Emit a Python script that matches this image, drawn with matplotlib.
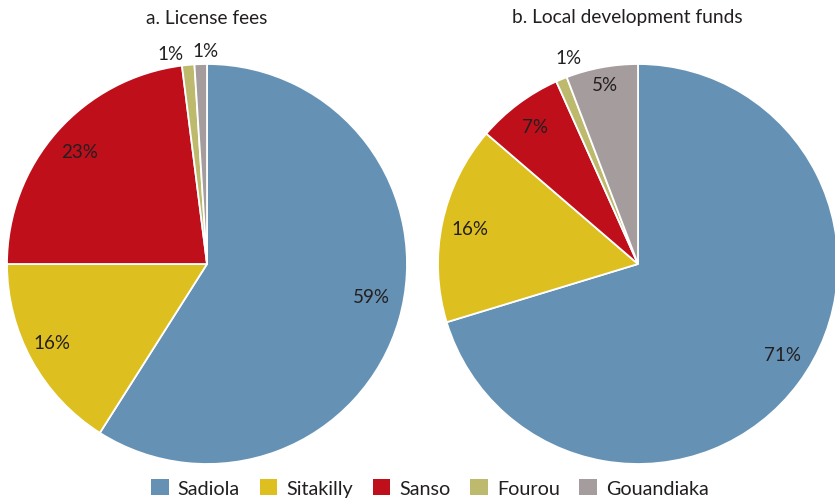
import numpy as np
import matplotlib.pyplot as plt
from matplotlib.patches import Patch

plt.rcParams["font.family"] = ["Lato", "DejaVu Sans"]

# ── Data ──────────────────────────────────────────────────────────────
MINES = ["Sadiola", "Sitakilly", "Sanso", "Fourou", "Gouandiaka"]
LICENSE_FEES = [59, 16, 23, 1, 1]
LICENSE_LABELS = ["59%", "16%", "23%", "1%", "1%"]
LOCAL_FUNDS = [70.3, 16.0, 7.0, 0.9, 5.8]
LOCAL_LABELS = ["71%", "16%", "7%", "1%", "5%"]
COLORS = ["#6592B4", "#DDBF20", "#BE0F1B", "#BDBA6E", "#A59C9E"]
TEXT = "#231F20"

W, H = 835, 502
fig = plt.figure(figsize=(W / 100, H / 100), dpi=100)
ax = fig.add_axes([0, 0, 1, 1])

R = 200


def draw_pie(values, labels, cx, cy, label_pos):
    """label_pos: per wedge (radius fraction, angle nudge in degrees)."""
    wedges, _ = ax.pie(
        values, colors=COLORS, startangle=90, counterclock=False,
        center=(cx, cy), radius=R, frame=True,
        wedgeprops=dict(edgecolor="white", linewidth=1.3),
    )
    for w, lab, (rf, nudge) in zip(wedges, labels, label_pos):
        ang = np.deg2rad((w.theta1 + w.theta2) / 2 + nudge)
        ax.text(cx + rf * R * np.cos(ang), cy + rf * R * np.sin(ang), lab,
                ha="center", va="center", fontsize=13.5, color=TEXT)
    return wedges


draw_pie(LICENSE_FEES, LICENSE_LABELS, 207, H - 265,
         [(0.84, 5), (0.87, -2), (0.85, 0), (1.07, 4.5), (1.07, -1.5)])
draw_pie(LOCAL_FUNDS, LOCAL_LABELS, 638, H - 265,
         [(0.85, 4.5), (0.86, 0), (0.86, 0), (1.09, -3.8), (0.915, 0)])
ax.set_xlim(0, W)
ax.set_ylim(0, H)
ax.set_aspect("equal")
ax.axis("off")

ax.text(207, H - 18, "a. License fees", ha="center", va="center",
        fontsize=13.8, color=TEXT)
ax.text(627, H - 18, "b. Local development funds", ha="center",
        va="center", fontsize=13.8, color=TEXT)

handles = [Patch(facecolor=c, edgecolor="none") for c in COLORS]
fig.legend(handles, MINES, loc="center", ncol=5, frameon=False,
           bbox_to_anchor=(430 / W, 1 - 489 / H), fontsize=14.2,
           handlelength=0.9, handleheight=0.9, handletextpad=0.45,
           columnspacing=1.0, labelcolor=TEXT, borderpad=0)

fig.savefig("out.png", dpi=100)
